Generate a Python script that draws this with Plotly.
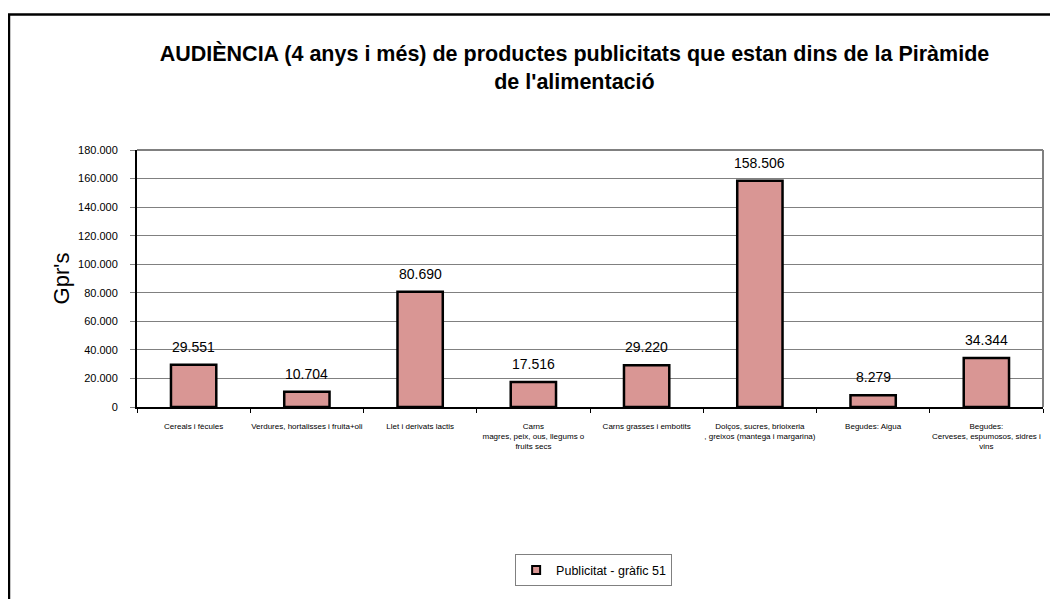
import plotly.graph_objects as go

# dades
categories = [
    "Cereals i fècules",
    "Verdures, hortalisses i fruita+oli",
    "Llet i derivats lactis",
    "Carns<br>magres, peix, ous, llegums o<br>fruits secs",
    "Carns grasses i embotits",
    "Dolços, sucres, brioixeria<br>, greixos (mantega i margarina)",
    "Begudes: Aigua",
    "Begudes:<br>Cerveses, espumosos, sidres i<br>vins",
]
values = [29551, 10704, 80690, 17516, 29220, 158506, 8279, 34344]
series_name = "Publicitat - gràfic 51"
title_text = ("AUDIÈNCIA (4 anys i més) de productes publicitats que estan dins de la Piràmide"
              "<br>de l'alimentació")

font_family = "Arial, Liberation Sans, sans-serif"
bar_color = "#D99694"

fig = go.Figure()

fig.add_trace(
    go.Bar(
        x=categories,
        y=values,
        name=series_name,
        marker_color=bar_color,
        marker_line=dict(width=2.5, color="black"),
        showlegend=False,
    )
)

# entrada de llegenda amb quadrat petit
fig.add_trace(
    go.Scatter(
        x=[None], y=[None],
        mode="markers",
        name=series_name,
        marker=dict(symbol="square", size=8, color=bar_color,
                    line=dict(color="black", width=2)),
        showlegend=True,
    )
)

# etiquetes de valor
for cat, val in zip(categories, values):
    fig.add_annotation(
        x=cat, y=val,
        text=f"{val:,}".replace(",", "."),
        showarrow=False,
        yanchor="bottom",
        yshift=8,
        font=dict(size=14, color="black", family=font_family),
    )

# marc exterior
fig.add_shape(
    type="rect", xref="paper", yref="paper",
    x0=-0.1413, x1=1.2, y0=-1.0, y1=1.527,
    line=dict(color="black", width=2.5),
    fillcolor="rgba(0,0,0,0)",
)
# vores superior i dreta de l'àrea del gràfic
fig.add_shape(type="line", xref="paper", yref="paper", x0=0, x1=1, y0=1, y1=1,
              line=dict(color="#808080", width=2))
fig.add_shape(type="line", xref="paper", yref="paper", x0=1, x1=1, y0=0, y1=1,
              line=dict(color="#808080", width=2))

fig.update_layout(
    width=1050, height=591,
    margin=dict(l=129, r=15, t=142, b=189),
    paper_bgcolor="white", plot_bgcolor="white",
    separators=",.",
    font=dict(family=font_family, color="black"),
    title=dict(
        text=title_text,
        x=0.5395, xanchor="center",
        y=0.91, yanchor="top",
        font=dict(size=21.5, family=font_family, color="black", weight="bold"),
    ),
    bargap=0.6,
    showlegend=True,
    legend=dict(
        x=0.504, xanchor="center",
        y=-0.573, yanchor="top",
        bordercolor="#808080", borderwidth=1,
        font=dict(size=12.5),
        itemwidth=30,
    ),
)

fig.update_xaxes(
    showline=True, linecolor="black", linewidth=2,
    ticks="outside", ticklen=4, tickcolor="black",
    tickson="boundaries",
    tickfont=dict(size=8),
    tickangle=0,
    ticklabelstandoff=10,
)
fig.update_yaxes(
    range=[0, 180000],
    dtick=20000,
    tickformat=",d",
    showline=True, linecolor="black", linewidth=2,
    showgrid=True, gridcolor="#808080", gridwidth=1,
    ticks="outside", ticklen=5, tickcolor="#808080",
    tickfont=dict(size=11),
    ticklabelstandoff=10,
    title=dict(text="Gpr's", font=dict(size=22), standoff=2),
    zeroline=False,
)

fig.write_html("out.html")
